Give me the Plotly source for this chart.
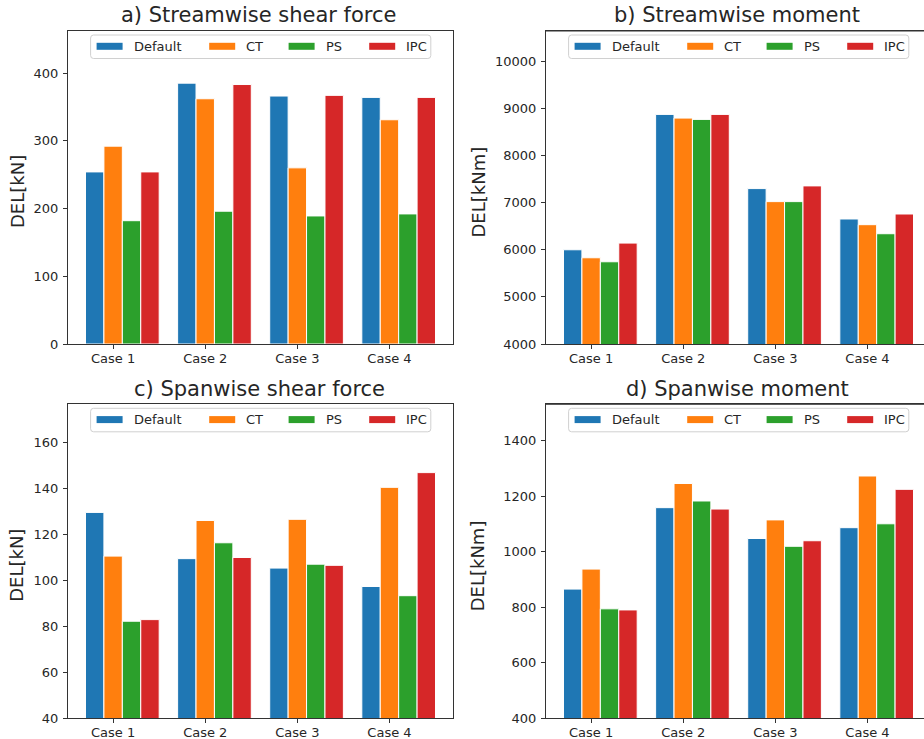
import plotly.graph_objects as go
import numpy as np

# ---- data ----
cases = ["Case 1", "Case 2", "Case 3", "Case 4"]
controllers = ["Default", "CT", "PS", "IPC"]
colors = ["#1f77b4", "#ff7f0e", "#2ca02c", "#d62728"]

stream_shear = {  # DEL [kN]
    "Default": [254, 385, 366, 364],
    "CT": [292, 362, 260, 331],
    "PS": [182, 196, 189, 192],
    "IPC": [254, 383, 367, 364],
}
stream_moment = {  # DEL [kNm]
    "Default": [6002, 8878, 7302, 6656],
    "CT": [5832, 8800, 7025, 6535],
    "PS": [5747, 8772, 7025, 6343],
    "IPC": [6144, 8878, 7359, 6762],
}
span_shear = {  # DEL [kN]
    "Default": [129.5, 109.4, 105.3, 97.3],
    "CT": [110.5, 126.0, 126.5, 140.4],
    "PS": [82.2, 116.3, 107.0, 93.3],
    "IPC": [82.9, 109.9, 106.5, 146.8],
}
span_moment = {  # DEL [kNm]
    "Default": [865, 1158, 1047, 1086],
    "CT": [937, 1245, 1114, 1272],
    "PS": [794, 1182, 1019, 1100],
    "IPC": [790, 1153, 1039, 1224],
}

titles = ["a) Streamwise shear force", "b) Streamwise moment",
          "c) Spanwise shear force", "d) Spanwise moment"]
ylabels = ["DEL[kN]", "DEL[kNm]", "DEL[kN]", "DEL[kNm]"]
datasets = [stream_shear, stream_moment, span_shear, span_moment]
yranges = [[0, 462], [4000, 10650], [40, 176.5], [400, 1530]]
ytickvals = [list(range(0, 401, 100)), list(range(4000, 10001, 1000)),
             list(range(40, 161, 20)), list(range(400, 1401, 200))]

# ---- geometry (pixels) ----
W, H = 924, 739
bar_w = 0.2
offsets = [-0.2, 0.0, 0.2, 0.4]
# axes boxes: (left, right, top, bottom); right column runs past the page edge
boxes = [(68, 453, 31, 344), (546, 931, 31, 344),
         (68, 453, 404.3, 718.3), (546, 931, 404.3, 718.3)]
full_xrange = [-0.49, 3.69]

def px(x):
    return x / W

def py(y):
    return 1 - y / H

FONT = "DejaVu Sans"
TXT = "#262626"

fig = go.Figure()
layout = dict(
    width=W, height=H,
    margin=dict(l=0, r=0, t=0, b=0, autoexpand=False),
    paper_bgcolor="white", plot_bgcolor="white",
    barmode="overlay", showlegend=False,
    font=dict(family=FONT, color=TXT, size=13),
)
shapes, annotations = [], []

xpos = np.arange(len(cases))
for k, (data, box) in enumerate(zip(datasets, boxes)):
    ax = "" if k == 0 else str(k + 1)
    l, r, t, b = box
    scale = (full_xrange[1] - full_xrange[0]) / (r - l)
    r_vis = min(r, W)
    xr = [full_xrange[0], full_xrange[0] + (r_vis - l) * scale]
    clipped = r > W

    for name, col, off in zip(controllers, colors, offsets):
        fig.add_trace(go.Bar(
            x=xpos + off, y=data[name], width=bar_w, name=name,
            marker=dict(color=col, line=dict(color="white", width=1)),
            xaxis="x" + ax, yaxis="y" + ax,
        ))

    layout["xaxis" + ax] = dict(
        domain=[px(l), px(r_vis)], range=xr, anchor="y" + ax,
        tickmode="array", tickvals=list(xpos), ticktext=cases,
        showline=True, linecolor="#333", linewidth=1, mirror=True,
        ticks="outside", ticklen=4, tickcolor="#333", showgrid=False,
        zeroline=False, automargin=False, ticklabelstandoff=-2,
        tickfont=dict(size=13, color=TXT),
    )
    layout["yaxis" + ax] = dict(
        domain=[py(b), py(t)], range=yranges[k], anchor="x" + ax,
        tickmode="array", tickvals=ytickvals[k],
        ticktext=[str(v) for v in ytickvals[k]],
        showline=True, linecolor="#333", linewidth=1,
        mirror=False if clipped else True,
        ticks="outside", ticklen=4, tickcolor="#333", showgrid=False,
        zeroline=False, automargin=False, ticklabelstandoff=2,
        tickfont=dict(size=13, color=TXT),
    )
    if clipped:
        # top spine only (right spine lies off the page)
        shapes.append(dict(type="line", xref="paper", yref="paper",
                           x0=px(l), x1=1, y0=py(t), y1=py(t),
                           line=dict(color="#333", width=1)))

    # title and y label
    cx = (l + r) / 2 - 1.5
    annotations.append(dict(text=titles[k], xref="paper", yref="paper",
                            x=px(cx), y=py(t - 15.5), showarrow=False,
                            xanchor="center", yanchor="middle",
                            font=dict(size=21, color=TXT)))
    ylx = l - (51 if k in (0, 2) else 68.5)
    annotations.append(dict(text=ylabels[k], xref="paper", yref="paper",
                            x=px(ylx), y=py((t + b) / 2 + 4.5), showarrow=False,
                            textangle=-90, xanchor="center", yanchor="middle",
                            font=dict(size=18, color=TXT)))

    # legend frame
    bl, br_, bt, bb = l + 22.6, r - 22.2, t + 4, t + 27.5
    rad = 3
    path = (f"M {px(bl + rad)},{py(bt)} L {px(br_ - rad)},{py(bt)} "
            f"Q {px(br_)},{py(bt)} {px(br_)},{py(bt + rad)} "
            f"L {px(br_)},{py(bb - rad)} Q {px(br_)},{py(bb)} {px(br_ - rad)},{py(bb)} "
            f"L {px(bl + rad)},{py(bb)} Q {px(bl)},{py(bb)} {px(bl)},{py(bb - rad)} "
            f"L {px(bl)},{py(bt + rad)} Q {px(bl)},{py(bt)} {px(bl + rad)},{py(bt)} Z")
    shapes.append(dict(type="path", xref="paper", yref="paper", path=path,
                       fillcolor="rgba(255,255,255,0.8)",
                       line=dict(color="#d0d0d0", width=1)))
    handle_x = [6, 118.6, 198, 278.6]
    text_x = [42.3, 154.3, 234.3, 314.3]
    ymid = t + 15.3
    for name, col, hx, tx in zip(controllers, colors, handle_x, text_x):
        shapes.append(dict(type="rect", xref="paper", yref="paper",
                           x0=px(bl + hx), x1=px(bl + hx + 26),
                           y0=py(ymid + 3.5), y1=py(ymid - 3.5),
                           fillcolor=col, line=dict(width=0)))
        annotations.append(dict(text=name, xref="paper", yref="paper",
                                x=px(bl + tx - 1), y=py(ymid), showarrow=False,
                                xanchor="left", yanchor="middle",
                                font=dict(size=13, color=TXT)))

layout["shapes"] = shapes
layout["annotations"] = annotations
fig.update_layout(**layout)
fig.write_html("out.html")
